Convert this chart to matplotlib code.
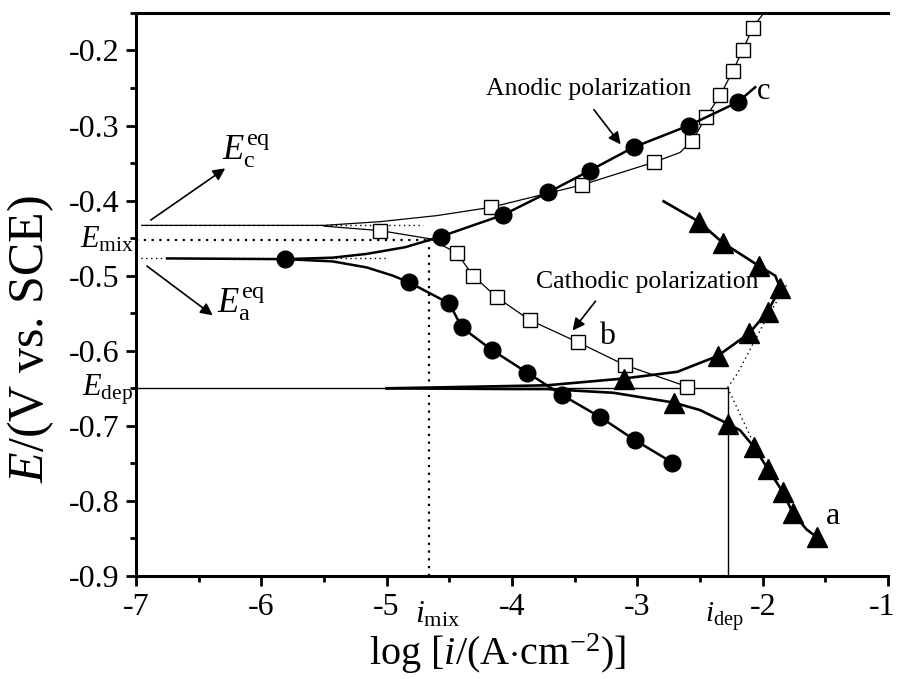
import matplotlib
matplotlib.use("Agg")
import matplotlib.pyplot as plt
from matplotlib.ticker import MultipleLocator, FixedLocator, FixedFormatter
import matplotlib.transforms as mtransforms

plt.rcParams['font.family'] = ['Liberation Serif', 'DejaVu Serif']
plt.rcParams['mathtext.fontset'] = 'custom'
plt.rcParams['mathtext.rm'] = 'Liberation Serif'
plt.rcParams['mathtext.it'] = 'Liberation Serif:italic'
plt.rcParams['mathtext.bf'] = 'Liberation Serif:bold'
plt.rcParams['axes.unicode_minus'] = False

# ---------------- data ----------------
# curve c (filled circles): anodic branch line
c_an_x = [-6.75, -5.81, -5.43, -5.16, -4.85, -4.57, -4.07, -3.71, -3.38, -3.03, -2.59, -2.20, -2.06]
c_an_y = [-0.477, -0.478, -0.476, -0.471, -0.462, -0.448, -0.419, -0.389, -0.360, -0.329, -0.300, -0.269, -0.249]
# curve c: cathodic branch line
c_ca_x = [-5.81, -5.43, -5.16, -4.95, -4.82, -4.50, -4.40, -4.16, -3.88, -3.60, -3.30, -3.02, -2.72]
c_ca_y = [-0.478, -0.481, -0.489, -0.500, -0.509, -0.537, -0.569, -0.599, -0.629, -0.659, -0.688, -0.719, -0.749]
# circle markers
c_mk_x = [-5.81, -4.57, -4.07, -3.71, -3.38, -3.03, -2.59, -2.20,
          -4.82, -4.50, -4.40, -4.16, -3.88, -3.60, -3.30, -3.02, -2.72]
c_mk_y = [-0.478, -0.448, -0.419, -0.389, -0.360, -0.329, -0.300, -0.269,
          -0.509, -0.537, -0.569, -0.599, -0.629, -0.659, -0.688, -0.719, -0.749]

# curve b (open squares): upper (anodic) branch line
b_up_x = [-6.95, -5.5, -5.05, -4.60, -4.17, -3.44, -2.87, -2.66, -2.56, -2.45, -2.34, -2.24, -2.16, -2.08, -2.00]
b_up_y = [-0.433, -0.433, -0.428, -0.420, -0.409, -0.379, -0.349, -0.336, -0.320, -0.288, -0.260, -0.228, -0.200, -0.170, -0.152]
# curve b: lower (cathodic) branch line
b_lo_x = [-5.5, -5.05, -4.65, -4.44, -4.31, -4.12, -3.86, -3.47, -3.10, -2.60]
b_lo_y = [-0.434, -0.440, -0.451, -0.470, -0.500, -0.529, -0.559, -0.589, -0.619, -0.648]
# square markers
b_mk_x = [-4.17, -3.44, -2.87, -2.56, -2.45, -2.34, -2.24, -2.16, -2.08,
          -5.05, -4.44, -4.31, -4.12, -3.86, -3.47, -3.10, -2.60]
b_mk_y = [-0.409, -0.379, -0.349, -0.320, -0.288, -0.260, -0.228, -0.200, -0.170,
          -0.440, -0.470, -0.500, -0.529, -0.559, -0.589, -0.619, -0.648]

# curve a (filled triangles): upper loop line
a_up_x = [-2.79, -2.51, -2.32, -2.03, -1.90, -1.86, -1.96, -2.11, -2.36, -2.68, -3.11, -3.72, -4.65, -5.0]
a_up_y = [-0.401, -0.428, -0.456, -0.487, -0.500, -0.516, -0.548, -0.577, -0.607, -0.628, -0.637, -0.646, -0.649, -0.650]
# curve a: lower branch line
a_lo_x = [-5.0, -4.0, -3.72, -3.19, -2.71, -2.50, -2.28, -2.18, -2.07, -1.96, -1.84, -1.76, -1.65, -1.57]
a_lo_y = [-0.650, -0.651, -0.651, -0.656, -0.669, -0.679, -0.697, -0.706, -0.728, -0.757, -0.788, -0.816, -0.838, -0.848]
# triangle markers
a_mk_x = [-2.51, -2.32, -2.03, -1.86, -1.96, -2.11, -2.36, -3.11,
          -2.71, -2.28, -2.07, -1.96, -1.84, -1.76, -1.57]
a_mk_y = [-0.428, -0.456, -0.487, -0.516, -0.548, -0.577, -0.607, -0.637,
          -0.669, -0.697, -0.728, -0.757, -0.788, -0.816, -0.848]

# characteristic values
E_c_eq, E_mix, E_a_eq, E_dep = -0.433, -0.453, -0.477, -0.649
i_mix, i_dep = -4.66, -2.28
# extrapolation (dotted) of curve a
ext_up_x = [-2.28, -2.20, -1.98, -1.80]
ext_up_y = [-0.649, -0.630, -0.560, -0.510]
ext_lo_x = [-2.28, -2.07]
ext_lo_y = [-0.649, -0.724]

x_ticks = [-7, -6, -5, -4, -3, -2, -1]
y_ticks = [-0.9, -0.8, -0.7, -0.6, -0.5, -0.4, -0.3, -0.2]

# ---------------- figure ----------------
fig = plt.figure(figsize=(8.97, 6.79), dpi=100)
ax = fig.add_axes([0.1516, 0.1517, 0.99 - 0.1516, 0.981 - 0.1517])
ax.set_xlim(-7, -1)
ax.set_ylim(-0.9, -0.15)

# reference lines
ax.plot([-7, i_dep], [E_dep, E_dep], color='k', lw=1.0)
ax.plot([i_dep, i_dep], [-0.9, E_dep], color='k', lw=1.0)
ax.plot([-7, i_mix], [E_mix, E_mix], color='k', lw=1.6, ls=(0, (1, 2.5)))
ax.plot([i_mix, i_mix], [-0.9, E_mix], color='k', lw=1.6, ls=(0, (1, 2.5)))
ax.plot([-7, -4.71], [E_c_eq, E_c_eq], color='k', lw=1.0, ls=(0, (1, 2.5)))
ax.plot([-7, -4.99], [E_a_eq, E_a_eq], color='k', lw=1.0, ls=(0, (1, 2.5)))
ax.plot(ext_up_x, ext_up_y, color='k', lw=1.0, ls=(0, (1, 2.5)))
ax.plot(ext_lo_x, ext_lo_y, color='k', lw=1.0, ls=(0, (1, 2.5)))

# curve b
ax.plot(b_up_x, b_up_y, color='k', lw=0.9)
ax.plot(b_lo_x, b_lo_y, color='k', lw=0.9)
ax.plot(b_mk_x, b_mk_y, ls='none', marker='s', ms=9.5, mfc='white', mec='k', mew=1.0)

# curve c
ax.plot(c_an_x, c_an_y, color='k', lw=1.8)
ax.plot(c_ca_x, c_ca_y, color='k', lw=1.8)
ax.plot(c_mk_x, c_mk_y, ls='none', marker='o', ms=12, mfc='k', mec='k')

# curve a
ax.plot(a_up_x, a_up_y, color='k', lw=1.9)
ax.plot(a_lo_x, a_lo_y, color='k', lw=1.9)
ax.plot(a_mk_x, a_mk_y, ls='none', marker='^', ms=14, mfc='k', mec='k')

# axes styling
for s in ['left', 'bottom', 'top']:
    ax.spines[s].set_linewidth(2.2)
ax.spines['right'].set_visible(False)
ax.xaxis.set_major_locator(FixedLocator(x_ticks))
ax.yaxis.set_major_locator(FixedLocator(y_ticks))
ax.xaxis.set_major_formatter(FixedFormatter([str(v) for v in x_ticks]))
ax.yaxis.set_major_formatter(FixedFormatter(['%.1f' % v for v in y_ticks]))
ax.xaxis.set_minor_locator(MultipleLocator(0.5))
ax.yaxis.set_minor_locator(MultipleLocator(0.05))
ax.tick_params(which='major', direction='out', length=7, width=2.0, labelsize=23, pad=5)
ax.tick_params(which='minor', direction='out', length=4, width=2.0)
ax.tick_params(top=False, right=False, which='both')

# keep the last x tick label ("-1") inside the picture edge
fig.canvas.draw()
last_lab = ax.get_xticklabels()[-1]
last_lab.set_transform(last_lab.get_transform() +
                       mtransforms.ScaledTranslation(-4.5 / 72, 0, fig.dpi_scale_trans))

ax.set_xlabel(r'log [$i$/(A$\cdot$cm$^{-2}$)]', fontsize=29)
ax.xaxis.set_label_coords(0.481, -0.098)
ax.set_ylabel(r'$E$/(V vs. SCE)', fontsize=36)
ax.yaxis.set_label_coords(-0.106, 0.42)

# annotations
ax.text(-3.39, -0.252, 'Anodic polarization', fontsize=18.5, ha='center', va='center')
ax.annotate('', xy=(-3.12, -0.328), xytext=(-3.36, -0.276),
            arrowprops=dict(arrowstyle='-|>', lw=1.2, color='k', mutation_scale=18))
ax.text(-2.92, -0.509, 'Cathodic polarization', fontsize=18.5, ha='center', va='center')
ax.annotate('', xy=(-3.53, -0.576), xytext=(-3.32, -0.531),
            arrowprops=dict(arrowstyle='-|>', lw=1.2, color='k', mutation_scale=18))
ax.annotate('', xy=(-6.27, -0.355), xytext=(-6.90, -0.428),
            arrowprops=dict(arrowstyle='-|>', lw=1.2, color='k', mutation_scale=18))
ax.annotate('', xy=(-6.37, -0.555), xytext=(-6.93, -0.485),
            arrowprops=dict(arrowstyle='-|>', lw=1.2, color='k', mutation_scale=18))

ax.text(-6.31, -0.345, r'$E_{\rm c}^{\rm eq}$', fontsize=25, ha='left', va='baseline')
ax.text(-6.35, -0.549, r'$E_{\rm a}^{\rm eq}$', fontsize=25, ha='left', va='baseline')
ax.text(-7.45, -0.462, r'$E_{\rm mix}$', fontsize=22, ha='left', va='baseline', clip_on=False)
ax.text(-7.43, -0.659, r'$E_{\rm dep}$', fontsize=22, ha='left', va='baseline', clip_on=False)

trans = mtransforms.blended_transform_factory(ax.transData, ax.transAxes)
ax.text(-4.77, -0.082, r'$i_{\rm mix}$', fontsize=23, ha='left', va='baseline', transform=trans, clip_on=False)
ax.text(-2.46, -0.082, r'$i_{\rm dep}$', fontsize=21, ha='left', va='baseline', transform=trans, clip_on=False)

ax.text(-1.99, -0.255, 'c', fontsize=22, ha='center', va='center')
ax.text(-3.24, -0.581, 'b', fontsize=23, ha='center', va='center')
ax.text(-1.44, -0.821, 'a', fontsize=23, ha='center', va='center')

fig.savefig('out.png', dpi=100)
